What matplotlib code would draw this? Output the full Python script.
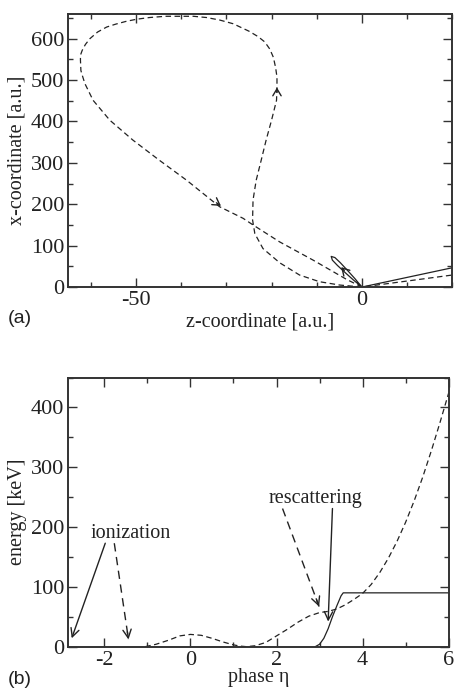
import matplotlib
matplotlib.use('Agg')
import matplotlib.pyplot as plt
from matplotlib.ticker import MultipleLocator

plt.rcParams['font.family'] = ['Liberation Serif', 'DejaVu Serif']
plt.rcParams['axes.unicode_minus'] = False

# (a) electron trajectory in the polarization plane, a.u.
dash_z = [0, -4.9, -9.4, -13.8, -18.2, -21.9, -23.7, -24.2, -24.1, -23.4, -22.3, -21.2,
          -20.0, -18.9, -18.8, -18.8, -19.1, -19.6, -20.4, -21.5, -23.0, -25.0, -28.5,
          -31.5, -34.4, -37.3, -40.3, -43.5, -47.0, -49.8, -52.1, -54.5, -56.5, -58.5,
          -60.2, -61.2, -61.9, -62.3, -62.3, -62.2, -61.8, -61.3, -59.5, -55.8, -50.7,
          -44.8, -38.8, -31.5, -26.3, -24.1, -18.2, -10.8, -3.4, 0, 20]
dash_x = [0, 4.8, 12.9, 29, 58.6, 93, 129, 162, 210, 258, 306, 355,
          403, 451, 483, 507, 530, 555, 575, 592, 605, 618, 636,
          645, 651, 654, 654, 654, 651, 647, 642, 635, 628, 616,
          600, 586, 572, 560, 548, 523, 508, 491, 451, 403, 355,
          306, 258, 194, 166, 150, 109, 65, 18.5, 0, 29]
solid_z = [0, -1.54, -3.15, -4.79, -5.98, -6.8, -6.54, -5.41, -3.65, -1.86, 0, 20]
solid_x = [0, 20.2, 39.7, 58.9, 71.2, 74, 65.0, 52.1, 34.3, 16.8, 0, 46.6]

# direction markers on the trajectories: (tail, tip)
traj_arrows = [((-32.2, 203.5), (-31.2, 196.0)),
               ((-18.8, 470.0), (-18.8, 482.0)),
               ((-3.9, 40.0), (-4.6, 48.0))]

# (b) kinetic energy vs laser phase
eta_dash = [-1.05, -0.8, -0.5, -0.25, 0, 0.25, 0.5, 0.75, 1.0, 1.15, 1.3, 1.5, 1.75,
            2.0, 2.25, 2.5, 2.75, 3.0, 3.2, 3.4, 3.6, 3.8, 4.0, 4.2, 4.4, 4.6, 4.8,
            5.0, 5.2, 5.4, 5.6, 5.8, 6.0]
energy_dash = [0, 4, 11, 18, 20.5, 19, 14, 8, 3, 1, 0, 1.5, 7,
               18, 29, 41, 51, 57, 59, 63, 70, 79, 89, 104, 124, 148, 176,
               208, 244, 284, 328, 375, 424]
eta_solid = [2.9, 3.0, 3.1, 3.2, 3.3, 3.4, 3.5, 3.55, 6.0]
energy_solid = [0, 4, 14, 30, 50, 68, 85, 90, 90]

# annotation arrows: (start, tip, dashed?)
ion_arrows = [((-1.98, 173), (-2.76, 14), False),
              ((-1.77, 173), (-1.44, 12), True)]
resc_arrows = [((2.14, 231), (2.99, 67), True),
               ((3.30, 231), (3.20, 42), False)]

ink = '#222222'
frame = '#333333'
curve_dashes = (4.4, 2.8)


def style_axes(ax):
    for s in ax.spines.values():
        s.set_linewidth(1.4)
        s.set_color(frame)
    ax.tick_params(which='both', direction='in', top=True, right=True,
                   color=frame, labelcolor=ink, labelsize=16, width=1.0)
    ax.tick_params(which='major', length=6.5, pad=3)
    ax.tick_params(which='minor', length=3.6)


def arrow_head(ax, tail, tip, size=10, hl=0.6, hw=0.3):
    ax.annotate('', xy=tip, xytext=tail,
                arrowprops=dict(arrowstyle=f'->,head_length={hl},head_width={hw}',
                                lw=1.0, color=ink, shrinkA=0, shrinkB=0,
                                mutation_scale=size))


def pointer(ax, start, tip, dashed):
    if dashed:
        ax.plot([start[0], tip[0]], [start[1], tip[1]], color=ink, lw=1.0,
                dashes=(6, 4))
        # short solid piece just behind the tip carries the head
        tail = (tip[0] - 0.08 * (tip[0] - start[0]), tip[1] - 0.08 * (tip[1] - start[1]))
        arrow_head(ax, tail, tip)
    else:
        arrow_head(ax, start, tip)


fig = plt.figure(figsize=(4.55, 6.9), dpi=100)

# --- (a) trajectory ---
ax1 = fig.add_axes([0.150, 0.584, 0.844, 0.396])
ax1.plot(dash_z, dash_x, color=ink, lw=0.9, dashes=curve_dashes)
ax1.plot(solid_z, solid_x, color=ink, lw=0.9)
for tail, tip in traj_arrows:
    arrow_head(ax1, tail, tip, size=10, hl=0.5, hw=0.3)
ax1.set_xlim(-65, 20)
ax1.set_ylim(0, 660)
ax1.xaxis.set_major_locator(MultipleLocator(50))
ax1.xaxis.set_minor_locator(MultipleLocator(10))
ax1.yaxis.set_major_locator(MultipleLocator(100))
ax1.yaxis.set_minor_locator(MultipleLocator(50))
style_axes(ax1)
ax1.set_xlabel('z-coordinate [a.u.]', fontsize=14.5, color=ink)
ax1.set_ylabel('x-coordinate [a.u.]', fontsize=14.5, color=ink)
ax1.xaxis.set_label_coords(0.5, -0.092)
ax1.yaxis.set_label_coords(-0.1075, 0.5)

# --- (b) energy ---
ax2 = fig.add_axes([0.150, 0.0628, 0.836, 0.390])
ax2.plot(eta_dash, energy_dash, color=ink, lw=0.9, dashes=curve_dashes)
ax2.plot(eta_solid, energy_solid, color=ink, lw=0.9)
ax2.text(-1.38, 181, 'ionization', fontsize=14.5, color=ink, ha='center', va='baseline')
ax2.text(2.915, 240, 'rescattering', fontsize=14.5, color=ink, ha='center', va='baseline')
for start, tip, dashed in ion_arrows + resc_arrows:
    pointer(ax2, start, tip, dashed)
ax2.set_xlim(-2.84, 6)
ax2.set_ylim(0, 450)
ax2.xaxis.set_major_locator(MultipleLocator(2))
ax2.xaxis.set_minor_locator(MultipleLocator(1))
ax2.yaxis.set_major_locator(MultipleLocator(100))
ax2.yaxis.set_minor_locator(MultipleLocator(50))
style_axes(ax2)
ax2.set_xlabel('phase η', fontsize=14.5, color=ink)
ax2.set_ylabel('energy [keV]', fontsize=14.5, color=ink)
ax2.xaxis.set_label_coords(0.5, -0.08)
ax2.yaxis.set_label_coords(-0.1075, 0.5)

fig.text(20 / 455, 1 - 319 / 690, '(a)', fontsize=14, family='Liberation Sans',
         color=ink, ha='center', va='center')
fig.text(20 / 455, 1 - 679 / 690, '(b)', fontsize=14, family='Liberation Sans',
         color=ink, ha='center', va='center')

fig.savefig('out.png', dpi=100)
